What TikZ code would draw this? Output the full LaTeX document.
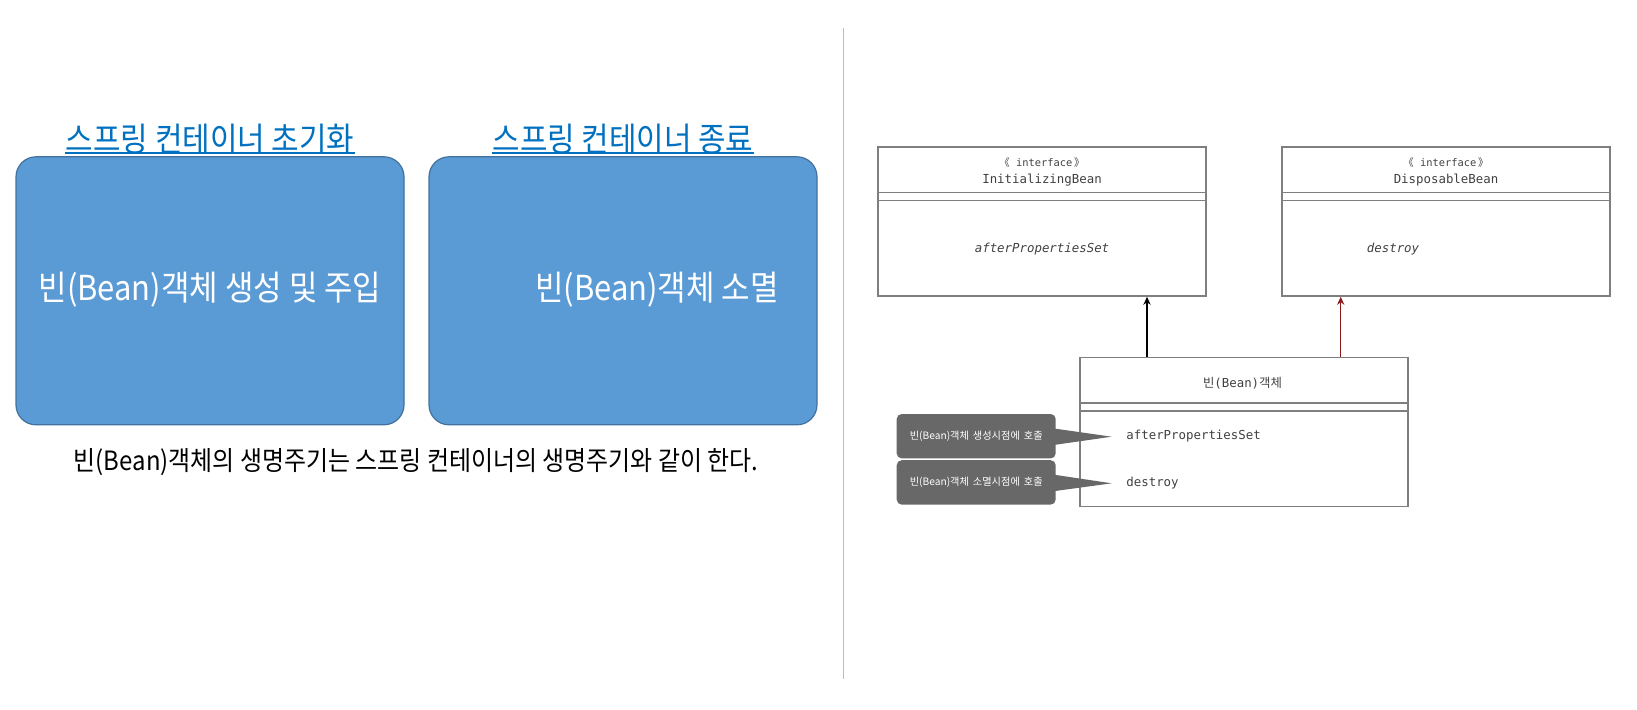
\documentclass[tikz,border=0pt]{standalone}
\usepackage{fontspec}
\usetikzlibrary{arrows.meta}
\setmainfont{Noto Sans CJK KR}[FakeStretch=0.9]
\newfontfamily\kr{Noto Sans CJK KR}
\setmonofont{DejaVu Sans Mono}
\definecolor{boxblue}{HTML}{5B9BD5}
\definecolor{boxedge}{HTML}{41719C}
\definecolor{titleblue}{HTML}{0070C0}
\definecolor{divblue}{HTML}{9DC3E6}
\definecolor{umlgray}{HTML}{7F7F7F}
\definecolor{umltext}{HTML}{404040}
\definecolor{callgray}{HTML}{686868}
\definecolor{arrowred}{HTML}{8B1A1A}
\newcommand{\fs}[1]{\fontsize{#1}{#1}\selectfont}

\begin{document}
\begin{tikzpicture}[x=0.5pt,y=-0.5pt]
                        \tikzstyle{bluebox}=[draw=boxedge, fill=boxblue, rounded corners=10pt, line width=0.6pt, minimum width=194pt, minimum height=134pt]
                        \tikzstyle{boxtext}=[text=white, font=\fs{17.2}]
                        \tikzstyle{title}=[text=titleblue, font=\fs{16.6}, anchor=base, inner sep=0pt]
                        \tikzstyle{umlbox}=[draw=umlgray, line width=0.75pt, minimum width=164pt, minimum height=74.5pt, inner sep=0pt]
                        \tikzstyle{umlline}=[draw=umlgray, line width=0.75pt]
                        \tikzstyle{stereo}=[text=umltext, font=\ttfamily\fs{5.2}, inner sep=0pt]
                        \tikzstyle{uml}=[text=umltext, font=\ttfamily\fs{6.2}, inner sep=0pt]
                        \tikzstyle{callbox}=[fill=callgray, rounded corners=2.5pt, text=white, minimum width=79.5pt, minimum height=22.2pt, font=\kr\fs{5.1}]
                        \tikzstyle{implarrow}=[line width=0.75pt, -{Stealth[length=4pt,width=3.6pt]}]
                        \useasboundingbox (0,0) rectangle (1637,709);
                        \node[bluebox] (initbox) at (210,290.8) {};
                        \node[bluebox] (endbox) at (623,290.8) {};
                        \node[boxtext] (inittext) at (210,290) {빈(Bean)객체 생성 및 주입};
                        \node[boxtext] (endtext) at (657,290) {빈(Bean)객체 소멸};
                        \node[title] (inittitle) at (210,151) {스프링 컨테이너 초기화};
                        \node[title] (endtitle) at (623,151) {스프링 컨테이너 종료};
                        \draw[titleblue, line width=0.8pt] ([yshift=-1pt]inittitle.base west) -- ([yshift=-1pt]inittitle.base east);
                        \draw[titleblue, line width=0.8pt] ([yshift=-1pt]endtitle.base west) -- ([yshift=-1pt]endtitle.base east);
                        \node[font=\fs{13.3}] (cycle) at (416,462) {빈(Bean)객체의 생명주기는 스프링 컨테이너의 생명주기와 같이 한다.};
                        \coordinate (dtop) at (843.6,28);
                        \coordinate (dbot) at (843.6,678.6);
                        \draw[divblue, line width=0.75pt] (dtop) -- (dbot);
                        \node[umlbox] (init) at (1042,221.5) {};
                        \node[umlbox] (disp) at (1446,221.5) {};
                        \node[umlbox] (bean) at (1244,432.2) {};
                        \foreach \n in {init,disp,bean}
                            \foreach \d in {23pt,27pt}
                                \draw[umlline] ([yshift=-\d]\n.north west) -- ([yshift=-\d]\n.north east);
                        \node[stereo] (initst) at (1042,163) {{\kr 《}\ interface\,{\kr 》}};
                        \node[uml] (initname) at (1042,180) {InitializingBean};
                        \node[uml] (initm) at (1042,249) {\itshape afterPropertiesSet};
                        \node[stereo] (dispst) at (1446,163) {{\kr 《}\ interface\,{\kr 》}};
                        \node[uml] (dispname) at (1446,180) {DisposableBean};
                        \node[uml] (dispm) at (1393,249) {\itshape destroy};
                        \node[uml] (beanname) at (1242.5,383.3) {{\kr 빈}(Bean){\kr 객체}};
                        \node[uml, anchor=west] (beanm1) at (1126,436) {afterPropertiesSet};
                        \node[uml, anchor=west] (beanm2) at (1126,483.3) {destroy};
                        \coordinate (ia) at (1147,330);
                        \coordinate (da) at (1340.7,330);
                        \draw[implarrow] (ia |- bean.north) -- (ia |- init.south);
                        \draw[implarrow, draw=arrowred] (da |- bean.north) -- (da |- disp.south);
                        \node[callbox] (call1) at (976.2,436.2) {빈(Bean)객체\hspace{2pt}생성시점에\hspace{2pt}호출};
                        \node[callbox] (call2) at (976.2,482.4) {빈(Bean)객체\hspace{2pt}소멸시점에\hspace{2pt}호출};
                        \coordinate (tip1) at (1111.7,436.7);
                        \coordinate (tip2) at (1111.7,483.3);
                        \fill[callgray] ([yshift=4pt,xshift=-2pt]call1.east) -- (tip1) -- ([yshift=-4.5pt,xshift=-2pt]call1.east) -- cycle;
                        \fill[callgray] ([yshift=4pt,xshift=-2pt]call2.east) -- (tip2) -- ([yshift=-4.5pt,xshift=-2pt]call2.east) -- cycle;
                    \end{tikzpicture}
\end{document}
